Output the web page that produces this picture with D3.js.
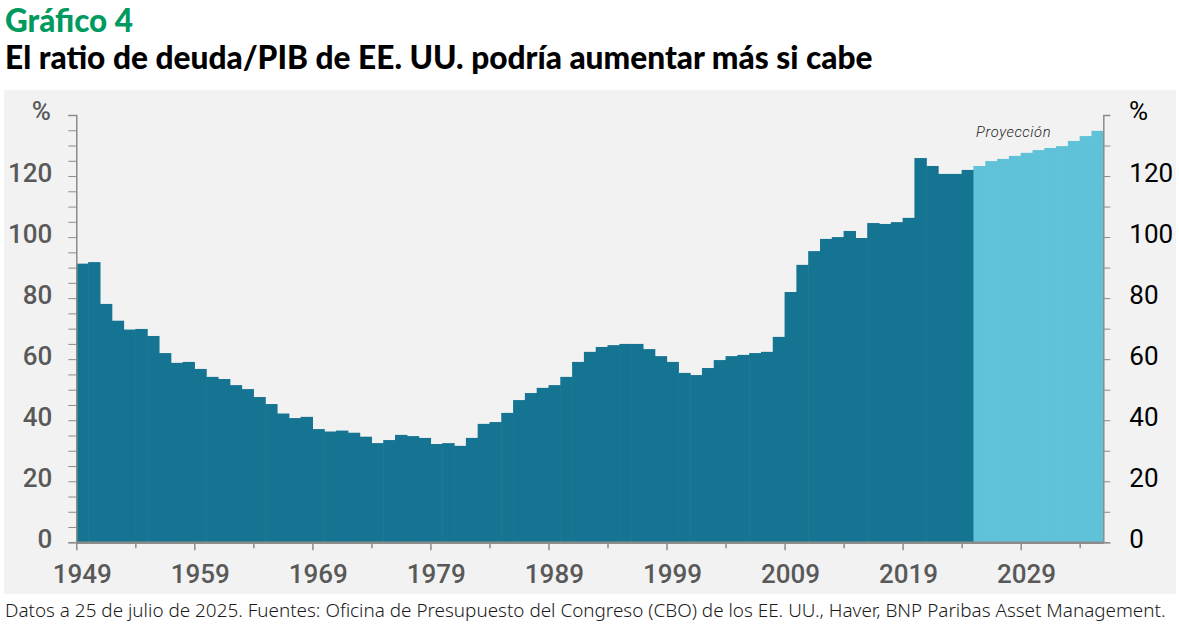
<!DOCTYPE html>
<html>
<head>
<meta charset="utf-8">
<script src="https://cdn.jsdelivr.net/npm/d3@7"></script>
<style>
  body { margin: 0; background: #fff; }
  svg { display: block; }
</style>
</head>
<body>
<svg id="chart" width="1179" height="624"></svg>
<script>
// historical debt/GDP, 1949-2024
const histYears = d3.range(1949, 2025)
const histValues = [
  91.3, 91.8, 78.1, 72.6, 69.7, 69.9, 67.6, 62.0, 58.8, 59.1,
  56.8, 54.2, 53.5, 51.5, 50.2, 47.6, 45.3, 42.2, 40.7, 41.1,
  37.1, 36.3, 36.6, 35.9, 34.6, 32.5, 33.5, 35.2, 34.8, 34.2,
  32.2, 32.5, 31.6, 34.2, 38.8, 39.4, 42.4, 46.6, 48.9, 50.6,
  51.5, 54.2, 59.1, 62.4, 64.0, 64.6, 65.0, 65.0, 63.3, 61.0,
  59.1, 55.5, 54.8, 57.1, 59.7, 61.0, 61.4, 62.0, 62.4, 67.3,
  82.0, 90.9, 95.4, 99.4, 100.0, 102.0, 99.7, 104.6, 104.3, 104.9,
  106.3, 125.9, 123.3, 120.7, 120.7, 122.0
]
// CBO projection, 2025-2035
const projYears = d3.range(2025, 2036)
const projValues = [123.3, 124.9, 125.6, 126.6, 127.6, 128.5, 129.2, 129.8, 131.5, 133.1, 134.8]

const labelYears = [1949, 1959, 1969, 1979, 1989, 1999, 2009, 2019, 2029]
const leftTicks = [0, 20, 40, 60, 80, 100, 120]

const darkBlue = "#167493"
const lightBlue = "#60c2d8"

const svg = d3.select("#chart")

// grey panel
svg.append("rect")
  .attr("x", 4).attr("y", 90)
  .attr("width", 1172).attr("height", 504)
  .attr("fill", "#f2f2f2")

const plotLeft = 76.3, plotRight = 1103.3, plotTop = 115, plotBottom = 542.3

const x = d3.scaleLinear().domain([1949, 2036]).range([plotLeft, plotRight])
const y = d3.scaleLinear().domain([0, 140]).range([plotBottom, plotTop])
const bw = x(1950) - x(1949)

const data = histYears.map((yr, i) => ({year: yr, value: histValues[i], proj: false}))
  .concat(projYears.map((yr, i) => ({year: yr, value: projValues[i], proj: true})))

svg.append("g")
  .selectAll("rect")
  .data(data)
  .join("rect")
    .attr("x", d => x(d.year))
    .attr("y", d => y(d.value))
    .attr("width", d => d.year === 2035 ? bw : bw + 0.6)
    .attr("height", d => y(0) - y(d.value))
    .attr("fill", d => d.proj ? lightBlue : darkBlue)

const axisGrey = "#8c8c8c"

// left axis
const yLeft = d3.axisLeft(y)
  .tickValues(d3.range(0, 141, 5))
  .tickSize(8)
  .tickPadding(16)
  .tickFormat(d => leftTicks.includes(d) ? d : "")
const gl = svg.append("g").attr("transform", `translate(${plotLeft},0)`).call(yLeft)
gl.select(".domain").attr("stroke", axisGrey).attr("stroke-width", 1.5)
gl.selectAll(".tick line").attr("stroke", axisGrey)
gl.selectAll(".tick text")
  .attr("fill", "#595959")
  .attr("dy", "0.2em")
  .style("font", "500 26px Roboto")

// right axis
const yRight = d3.axisRight(y)
  .tickValues(d3.range(0, 141, 10))
  .tickSize(7)
  .tickPadding(19)
  .tickFormat(d => leftTicks.includes(d) ? d : "")
const gr = svg.append("g").attr("transform", `translate(${plotRight},0)`).call(yRight)
gr.select(".domain").attr("stroke", axisGrey).attr("stroke-width", 1.5)
gr.selectAll(".tick line").attr("stroke", axisGrey)
gr.selectAll(".tick text")
  .attr("fill", "#000")
  .attr("dy", "0.2em")
  .style("font", "400 26px Roboto")

// % units
svg.append("text").attr("x", 51).attr("y", 120).attr("text-anchor", "end")
  .attr("fill", "#595959").style("font", "500 26px Roboto").text("%")
svg.append("text").attr("x", 1129).attr("y", 120)
  .attr("fill", "#000").style("font", "400 26px Roboto").text("%")

// bottom axis: ticks every 5 years at bar edges
const xTicks = d3.axisBottom(x)
  .tickValues(d3.range(1949, 2036, 5))
  .tickSizeInner(6)
  .tickSizeOuter(0)
  .tickFormat("")
const gx = svg.append("g").attr("transform", `translate(0,${plotBottom})`).call(xTicks)
gx.select(".domain").attr("stroke", axisGrey).attr("stroke-width", 2.5)
gx.selectAll(".tick line")
  .attr("stroke", axisGrey).attr("stroke-width", 1.5)
  .attr("y2", d => labelYears.includes(d) ? 8 : 6)

// decade labels centred on their bar
svg.append("g")
  .selectAll("text")
  .data(labelYears)
  .join("text")
    .attr("x", d => x(d) + bw / 2)
    .attr("y", 583)
    .attr("text-anchor", "middle")
    .attr("fill", "#595959")
    .style("font", "500 26px Roboto")
    .text(d => d)

// fit a text element to a target width by adjusting its font size
function fitWidth(sel, target) {
  const w = sel.node().getComputedTextLength()
  const fs = parseFloat(sel.style("font-size"))
  sel.style("font-size", (fs * target / w) + "px")
}

// projection label
const proj = svg.append("text")
  .attr("x", x(2028) + bw * 0.4).attr("y", 137)
  .attr("text-anchor", "middle")
  .attr("fill", "#222")
  .style("font-family", "Roboto").style("font-style", "italic")
  .style("font-weight", 300).style("font-size", "15px")
  .style("letter-spacing", "0.6px")
  .text("Proyección")
fitWidth(proj, 75)

const t1 = svg.append("text").attr("x", 5).attr("y", 31.5)
  .attr("fill", "#009a5e")
  .style("font-family", "Lato").style("font-weight", 900).style("font-size", "30px")
  .text("Gráfico 4")
fitWidth(t1, 128)

const t2 = svg.append("text").attr("x", 5).attr("y", 68.5)
  .attr("fill", "#000")
  .style("font-family", "Lato").style("font-weight", 900).style("font-size", "30px")
  .text("El ratio de deuda/PIB de EE. UU. podría aumentar más si cabe")
fitWidth(t2, 868)

const foot = svg.append("text").attr("x", 5).attr("y", 617)
  .attr("fill", "#1a1a1a")
  .style("font-family", "'Noto Sans'").style("font-weight", 300).style("font-size", "17px")
  .text("Datos a 25 de julio de 2025. Fuentes: Oficina de Presupuesto del Congreso (CBO) de los EE. UU., Haver, BNP Paribas Asset Management.")
fitWidth(foot, 1162)
</script>
</body>
</html>
